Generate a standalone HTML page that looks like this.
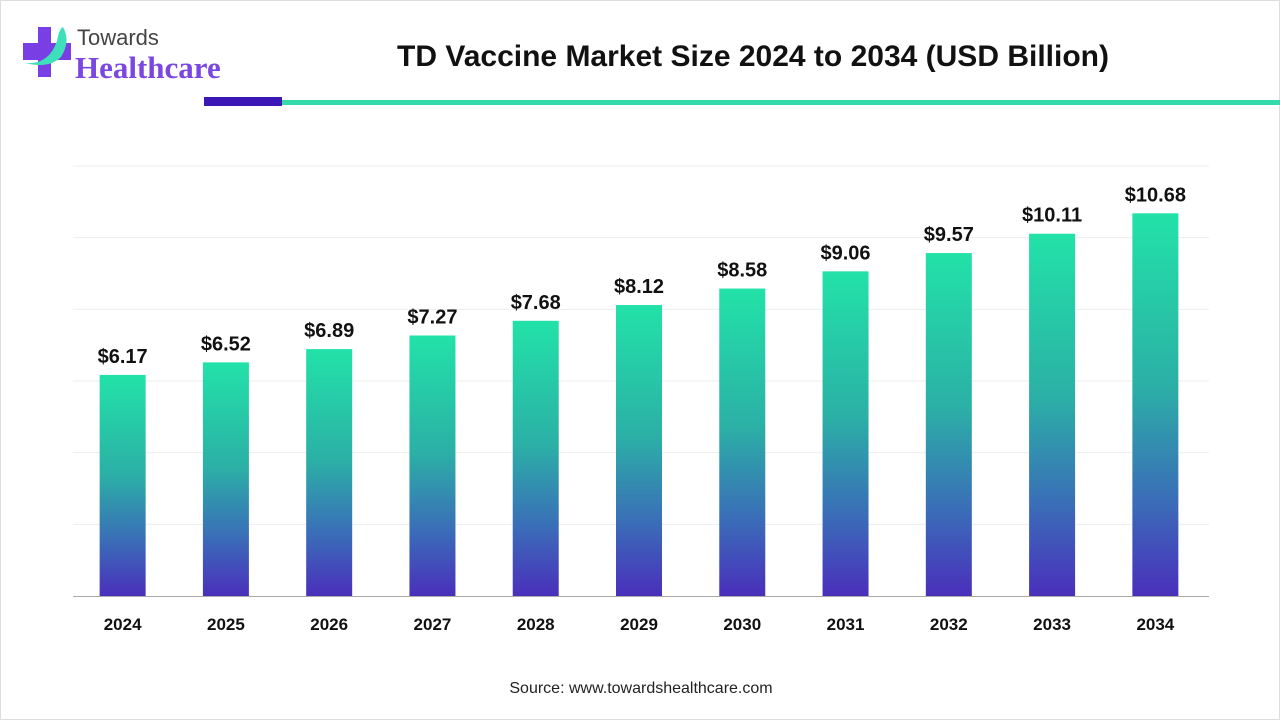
<!DOCTYPE html>
<html><head><meta charset="utf-8"><style>
body{margin:0;width:1280px;height:720px;background:#fff;overflow:hidden;font-family:"Liberation Sans",sans-serif;}
#wrap{position:relative;width:1280px;height:720px;box-sizing:border-box;border:1px solid #ddd;}
</style></head><body>
<div id="wrap">
<svg width="1280" height="720">
<defs><linearGradient id="g" x1="0" y1="0" x2="0" y2="1">
<stop offset="0" stop-color="#22e2a8"/><stop offset="0.45" stop-color="#2bb0a6"/><stop offset="0.75" stop-color="#3a6db8"/><stop offset="1" stop-color="#4a2fbb"/></linearGradient></defs>
<g>
<rect x="37" y="26" width="13" height="50" fill="#7a3fe4"/>
<rect x="22" y="42" width="48" height="17" fill="#7a3fe4"/>
<path d="M24 62 Q48 64 56 40 Q58 28 62 26 Q70 40 60 56 Q48 68 24 62Z" fill="#3de0b8"/>
<text x="76" y="44" font-size="22" fill="#444">Towards</text>
<text x="74" y="77" font-size="31" font-weight="bold" font-family="Liberation Serif,serif" fill="#7a47e0">Healthcare</text>
</g>
<text x="752" y="65" text-anchor="middle" font-size="30" font-weight="bold" fill="#111">TD Vaccine Market Size 2024 to 2034 (USD Billion)</text>
<rect x="203" y="96" width="78" height="9" fill="#3b17b5"/>
<rect x="281" y="99" width="999" height="5" fill="#34d9ac"/>
<g id="grid"></g><g id="bars"></g>
<line x1="72" y1="595.5" x2="1208" y2="595.5" stroke="#aaa"/>
<text x="640" y="692" text-anchor="middle" font-size="16" fill="#222">Source: www.towardshealthcare.com</text>
</svg></div>
<script>
const years=["2024","2025","2026","2027","2028","2029","2030","2031","2032","2033","2034"];
const values=[6.17,6.52,6.89,7.27,7.68,8.12,8.58,9.06,9.57,10.11,10.68];
const labels=["$6.17","$6.52","$6.89","$7.27","$7.68","$8.12","$8.58","$9.06","$9.57","$10.11","$10.68"];
const gridTicks=[0,2,4,6,8,10,12];
const NS="http://www.w3.org/2000/svg";
const x0=70,x1=1206,yb=595,yt=165,vmax=12;
const y=v=>yb-(yb-yt)*v/vmax;
const bw=(x1-x0)/years.length;
const xc=i=>x0+bw*(i+0.5);
const grid=document.getElementById('grid'),bars=document.getElementById('bars');
gridTicks.forEach(t=>{if(t===0)return;const l=document.createElementNS(NS,'line');
l.setAttribute('x1',72);l.setAttribute('x2',1208);l.setAttribute('y1',y(t));l.setAttribute('y2',y(t));l.setAttribute('stroke','#eee');


grid.appendChild(l);});
years.forEach((yr,i)=>{
const r=document.createElementNS(NS,'rect');
r.setAttribute('x',xc(i)-23);r.setAttribute('width',46);r.setAttribute('y',y(values[i]));r.setAttribute('height',yb-y(values[i]));r.setAttribute('fill','url(#g)');


bars.appendChild(r);
const t=document.createElementNS(NS,'text');
t.setAttribute('x',xc(i));t.setAttribute('y',y(values[i])-12);t.setAttribute('text-anchor','middle');t.setAttribute('font-size','20');t.setAttribute('font-weight','bold');t.setAttribute('fill','#111');t.textContent=labels[i];


bars.appendChild(t);
const a=document.createElementNS(NS,'text');
a.setAttribute('x',xc(i));a.setAttribute('y',629);a.setAttribute('text-anchor','middle');a.setAttribute('font-size','17');a.setAttribute('font-weight','bold');a.setAttribute('fill','#111');a.textContent=yr;


bars.appendChild(a);});
</script>
</body></html>
